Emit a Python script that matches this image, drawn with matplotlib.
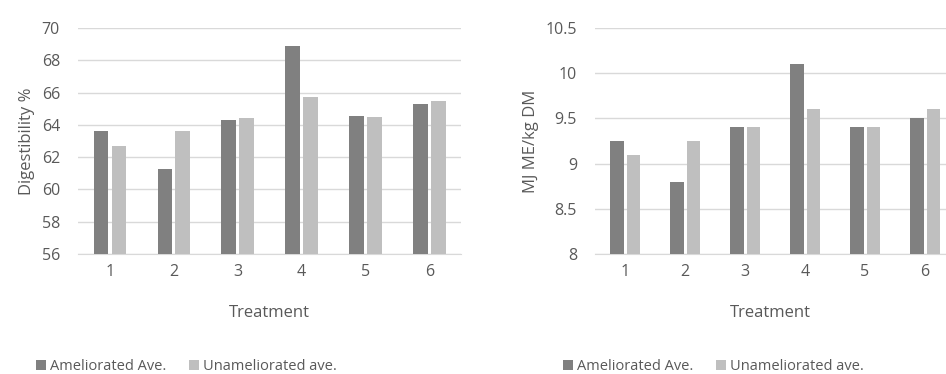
import matplotlib.pyplot as plt
import numpy as np

plt.rcParams['font.family'] = ['Open Sans', 'DejaVu Sans']

treatments = ['1', '2', '3', '4', '5', '6']
series_names = ['Ameliorated Ave.', 'Unameliorated ave.']

digest_amel = [63.6, 61.25, 64.3, 68.9, 64.55, 65.3]
digest_unamel = [62.7, 63.6, 64.4, 65.7, 64.5, 65.5]

me_amel = [9.25, 8.8, 9.4, 10.1, 9.4, 9.5]
me_unamel = [9.1, 9.25, 9.4, 9.6, 9.4, 9.6]

dark = '#808080'
light = '#bfbfbf'
text_col = '#595959'
grid_col = '#d9d9d9'

fig = plt.figure(figsize=(9.46, 3.74), dpi=100)

def draw(ax, amel, unamel, ylim, yticks, ylabel, xright, legend_x):
    x = np.arange(len(treatments))
    w = 0.23
    off = 0.14
    b1 = ax.bar(x - off, amel, w, color=dark, zorder=3)
    b2 = ax.bar(x + off, unamel, w, color=light, zorder=3)
    ax.set_ylim(*ylim)
    ax.set_xlim(-0.5, xright)
    ax.set_yticks(yticks)
    ax.set_yticklabels([f'{v:g}' for v in yticks])
    ax.set_xticks(x)
    ax.set_xticklabels(treatments)
    ax.grid(axis='y', color=grid_col, linewidth=1, zorder=0)
    for s in ['top', 'right', 'left']:
        ax.spines[s].set_visible(False)
    ax.spines['bottom'].set_color(grid_col)
    ax.tick_params(axis='both', length=0, colors=text_col, labelsize=11.5)
    ax.tick_params(axis='y', pad=13)
    ax.tick_params(axis='x', pad=7)
    ax.set_xlabel('Treatment', color=text_col, fontsize=12, labelpad=18)
    ax.set_ylabel(ylabel, color=text_col, fontsize=12, labelpad=5)
    fig.legend([b1, b2], series_names, loc='lower left',
               bbox_to_anchor=(legend_x, -0.035), ncol=2, frameon=False,
               fontsize=10.5, labelcolor=text_col, handlelength=0.7,
               handleheight=0.7, handletextpad=0.3, columnspacing=1.5)

ax1 = fig.add_axes([0.0825, 0.321, 0.405, 0.604])
draw(ax1, digest_amel, digest_unamel, (56, 70), list(range(56, 71, 2)),
     'Digestibility %', 5.5, 0.024)

ax2 = fig.add_axes([0.629, 0.321, 0.371, 0.604])
draw(ax2, me_amel, me_unamel, (8, 10.5), [8, 8.5, 9, 9.5, 10, 10.5],
     'MJ ME/kg DM', 5.35, 0.581)

fig.savefig('out.png', dpi=100)
